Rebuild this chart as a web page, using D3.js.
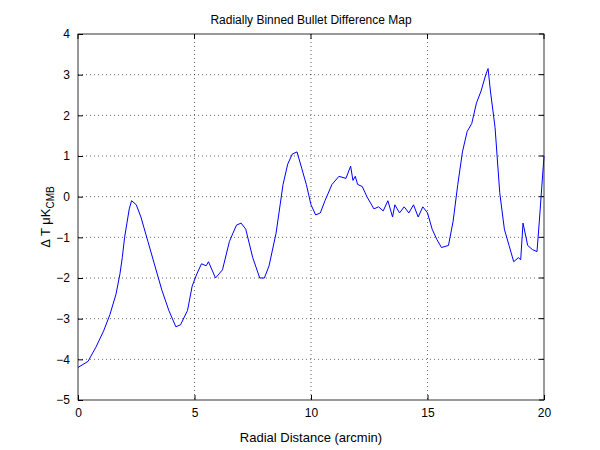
<!DOCTYPE html>
<html><head><meta charset="utf-8">
<script src="https://cdn.jsdelivr.net/npm/d3@7"></script>
<style>body{margin:0;background:#fff}</style>
</head><body>
<svg id="chart" width="600" height="450"></svg>
<script>
const radius = [0,0.43,0.77,1.1,1.37,1.63,1.8,1.9,2.0,2.1,2.2,2.3,2.5,2.7,3.0,3.3,3.6,3.9,4.2,4.4,4.7,4.9,5.1,5.3,5.5,5.6,5.9,6.2,6.5,6.8,7.0,7.2,7.5,7.8,8.0,8.2,8.5,8.8,9.0,9.2,9.4,9.6,9.8,10.0,10.2,10.4,10.6,10.9,11.2,11.5,11.7,11.8,11.9,12.0,12.2,12.4,12.7,12.9,13.1,13.3,13.5,13.6,13.8,14.0,14.2,14.4,14.6,14.8,15.0,15.2,15.4,15.6,15.9,16.1,16.3,16.5,16.7,16.9,17.1,17.3,17.5,17.6,17.7,17.9,18.1,18.3,18.5,18.7,18.9,19.0,19.1,19.3,19.5,19.7,19.8,20.0];
const deltaT = [-4.2,-4.05,-3.7,-3.3,-2.9,-2.4,-1.9,-1.5,-1.0,-0.65,-0.3,-0.1,-0.2,-0.5,-1.1,-1.7,-2.3,-2.8,-3.2,-3.15,-2.8,-2.2,-1.9,-1.65,-1.7,-1.6,-2.0,-1.8,-1.1,-0.7,-0.65,-0.8,-1.5,-2.0,-2.0,-1.7,-0.9,0.3,0.8,1.05,1.1,0.7,0.3,-0.2,-0.45,-0.4,-0.1,0.3,0.5,0.45,0.75,0.4,0.5,0.3,0.25,0.0,-0.3,-0.25,-0.35,-0.1,-0.5,-0.2,-0.4,-0.25,-0.4,-0.2,-0.5,-0.25,-0.4,-0.8,-1.05,-1.25,-1.2,-0.6,0.3,1.1,1.6,1.8,2.3,2.6,3.0,3.15,2.6,1.7,0.1,-0.8,-1.2,-1.6,-1.5,-1.55,-0.65,-1.2,-1.3,-1.35,-0.6,1.0];
const xTicks = [0,5,10,15,20];
const yTicks = [-5,-4,-3,-2,-1,0,1,2,3,4];

const svg = d3.select("#chart");
const L = 78, R = 544, T = 34, B = 400;
const x = d3.scaleLinear().domain([0,20]).range([L,R]);
const y = d3.scaleLinear().domain([-5,4]).range([B,T]);
const font = "Liberation Sans, Arial, sans-serif";

// grid
svg.selectAll(".gx").data(xTicks.slice(1,-1)).enter().append("line")
  .attr("x1", d => x(d)).attr("x2", d => x(d)).attr("y1", T).attr("y2", B)
  .attr("stroke", "#000").attr("stroke-width", 0.6).attr("stroke-dasharray", "1,3");
svg.selectAll(".gy").data(yTicks.slice(1,-1)).enter().append("line")
  .attr("y1", d => y(d)).attr("y2", d => y(d)).attr("x1", L).attr("x2", R)
  .attr("stroke", "#000").attr("stroke-width", 0.6).attr("stroke-dasharray", "1,3");

svg.append("rect").attr("x", L).attr("y", T).attr("width", R-L).attr("height", B-T)
  .attr("fill", "none").attr("stroke", "#000").attr("stroke-width", 0.8);

const ax = svg.append("g").attr("transform", `translate(0,${B})`)
  .call(d3.axisBottom(x).tickValues(xTicks).tickSize(-5).tickPadding(8));
const ay = svg.append("g").attr("transform", `translate(${L},0)`)
  .call(d3.axisLeft(y).tickValues(yTicks).tickSize(-5).tickPadding(8));
[ax, ay].forEach(a => {
  a.select(".domain").remove();
  a.selectAll("text").attr("font-family", font).attr("font-size", 12).attr("fill", "#000");
});
// top/right ticks
svg.selectAll(".tx").data(xTicks).enter().append("line")
  .attr("x1", d => x(d)).attr("x2", d => x(d)).attr("y1", T).attr("y2", T+5).attr("stroke", "#000");
svg.selectAll(".ty").data(yTicks).enter().append("line")
  .attr("y1", d => y(d)).attr("y2", d => y(d)).attr("x1", R).attr("x2", R-5).attr("stroke", "#000");

svg.append("path").datum(radius.map((r,i) => [r, deltaT[i]]))
  .attr("d", d3.line().x(d => x(d[0])).y(d => y(d[1])))
  .attr("fill", "none").attr("stroke", "#0000ff").attr("stroke-width", 1);

svg.append("text").attr("x", (L+R)/2).attr("y", 24).attr("text-anchor", "middle")
  .attr("font-family", font).attr("font-size", 12).text("Radially Binned Bullet Difference Map");
svg.append("text").attr("x", (L+R)/2).attr("y", 442).attr("text-anchor", "middle")
  .attr("font-family", font).attr("font-size", 13).text("Radial Distance (arcmin)");
const yl = svg.append("text").attr("transform", `translate(50,${(T+B)/2}) rotate(-90)`)
  .attr("text-anchor", "middle").attr("font-family", font).attr("font-size", 13);
yl.append("tspan").text("Δ T μK");
yl.append("tspan").attr("font-size", 10).attr("dy", 4).text("CMB");
</script>
</body></html>
